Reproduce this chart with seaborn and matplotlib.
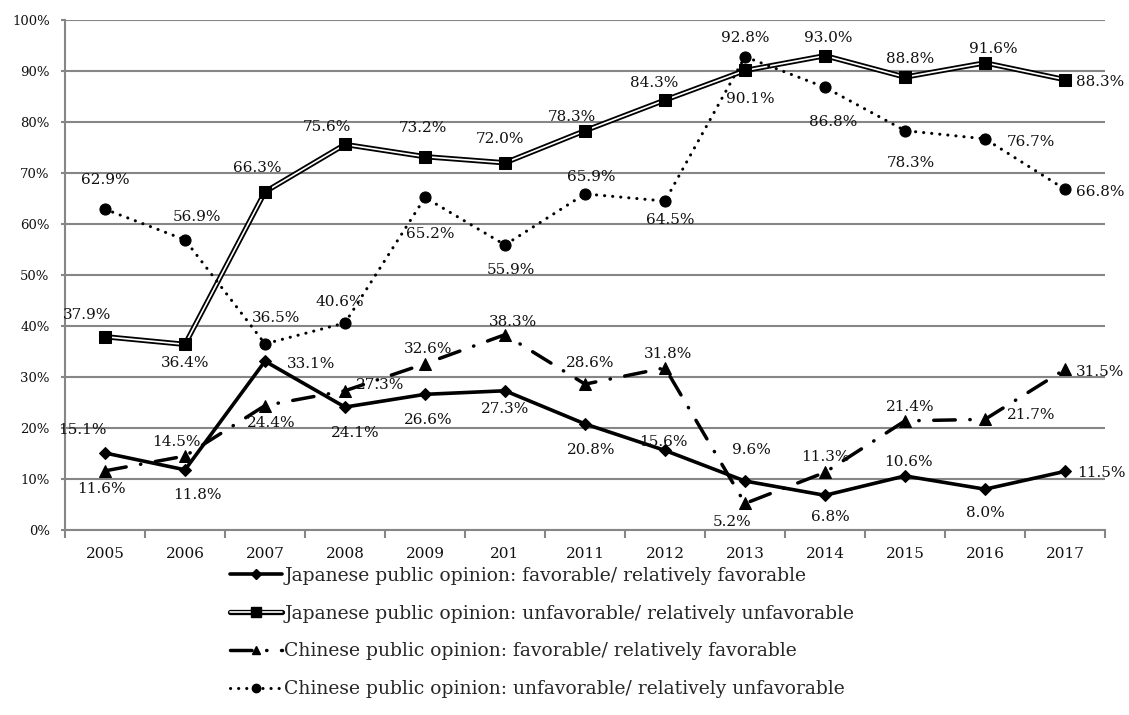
import numpy as np
import matplotlib
matplotlib.use("Agg")
import matplotlib.pyplot as plt
import seaborn as sns
from matplotlib.lines import Line2D
from matplotlib.legend_handler import HandlerTuple

# ---- data -------------------------------------------------------------
years = ["2005", "2006", "2007", "2008", "2009", "201", "2011",
         "2012", "2013", "2014", "2015", "2016", "2017"]
jp_favorable = [15.1, 11.8, 33.1, 24.1, 26.6, 27.3, 20.8, 15.6, 9.6, 6.8, 10.6, 8.0, 11.5]
jp_unfavorable = [37.9, 36.4, 66.3, 75.6, 73.2, 72.0, 78.3, 84.3, 90.1, 93.0, 88.8, 91.6, 88.3]
cn_favorable = [11.6, 14.5, 24.4, 27.3, 32.6, 38.3, 28.6, 31.8, 5.2, 11.3, 21.4, 21.7, 31.5]
cn_unfavorable = [62.9, 56.9, 36.5, 40.6, 65.2, 55.9, 65.9, 64.5, 92.8, 86.8, 78.3, 76.7, 66.8]
y_ticks = [0, 10, 20, 30, 40, 50, 60, 70, 80, 90, 100]
series_names = [
    "Japanese public opinion: favorable/ relatively favorable",
    "Japanese public opinion: unfavorable/ relatively unfavorable",
    "Chinese public opinion: favorable/ relatively favorable",
    "Chinese public opinion: unfavorable/ relatively unfavorable",
]

# value-label offsets (pixels, dx / dy) for each series
off_jp_fav = [(-23, 23), (12, -25), (46, -3), (10, -26), (3, -26), (0, -18), (6, -26),
              (-2, 8), (6, 31), (5, -22), (3, 14), (0, -24), (36, -2)]
off_jp_unfav = [(-18, 22), (0, -19), (-8, 24), (-18, 17), (-2, 29), (-5, 24), (-13, 14),
                (-11, 17), (5, -29), (3, 18), (5, 18), (8, 14), (35, -2)]
off_cn_fav = [(-4, -18), (-9, 14), (6, -17), (35, 6), (3, 15), (8, 13), (5, 21),
              (3, 14), (-13, -19), (0, 15), (5, 14), (46, 4), (35, -3)]
off_cn_unfav = [(0, 29), (12, 23), (11, 26), (-5, 21), (5, -37), (6, -25), (6, 17),
                (5, -19), (0, 19), (8, -35), (6, -32), (46, -3), (35, -3)]

# ---- style ------------------------------------------------------------
sns.set_theme(style="white")
plt.rcParams["font.family"] = ["DejaVu Serif"]
GRID = "#868686"
INK = "black"
TEXT = "#111111"

fig = plt.figure(figsize=(11.29, 7.15), dpi=100)
ax = fig.add_axes([65 / 1129, 1 - 530 / 715, 1040 / 1129, 510 / 715])
x = np.arange(len(years))

dashdot = (0, (6.2, 4.2, 0.1, 4.2))
dotted = (0, (0.05, 2.6))

# Japanese favorable: solid line with diamonds
sns.lineplot(x=x, y=jp_favorable, ax=ax, color=INK, lw=2.6, marker="D",
             markersize=6, markeredgecolor=INK, zorder=3)
# Japanese unfavorable: double line with squares
sns.lineplot(x=x, y=jp_unfavorable, ax=ax, color=INK, lw=3.8, zorder=3,
             solid_joinstyle="miter")
sns.lineplot(x=x, y=jp_unfavorable, ax=ax, color="white", lw=1.2, zorder=3.1,
             solid_joinstyle="miter")
sns.lineplot(x=x, y=jp_unfavorable, ax=ax, color=INK, linestyle="", marker="s",
             markersize=8, markeredgecolor=INK, zorder=3.2)
# Chinese favorable: long dash-dot with triangles
sns.lineplot(x=x, y=cn_favorable, ax=ax, color=INK, lw=2.5, linestyle=dashdot,
             dash_capstyle="round", marker="^", markersize=8,
             markeredgecolor=INK, zorder=3.3)
# Chinese unfavorable: round dots with circles
sns.lineplot(x=x, y=cn_unfavorable, ax=ax, color=INK, lw=2.2, linestyle=dotted,
             dash_capstyle="round", marker="o", markersize=8,
             markeredgecolor=INK, zorder=3.4)

# value labels
for vals, offs in [(jp_favorable, off_jp_fav), (jp_unfavorable, off_jp_unfav),
                   (cn_favorable, off_cn_fav), (cn_unfavorable, off_cn_unfav)]:
    for xi, v, (dx, dy) in zip(x, vals, offs):
        ax.annotate(f"{v:.1f}%", (xi, v), xytext=(dx, dy),
                    textcoords="offset pixels", ha="center", va="center",
                    fontsize=11, color=TEXT, zorder=5)

# axes
ax.set_xlim(-0.5, len(years) - 0.5)
ax.set_ylim(0, 100)
ax.set_yticks(y_ticks)
ax.set_yticklabels([f"{t}%" for t in y_ticks])
ax.set_xticks(x)
ax.set_xticklabels(years)
ax.set_xticks(np.arange(-0.5, len(years), 1), minor=True)
ax.set_xlabel("")
ax.set_ylabel("")
ax.yaxis.grid(True, color=GRID, lw=1.5)
ax.xaxis.grid(False)
ax.set_axisbelow(True)
for s in ["top", "right"]:
    ax.spines[s].set_visible(False)
for s in ["left", "bottom"]:
    ax.spines[s].set_color(GRID)
    ax.spines[s].set_linewidth(1.5)
ax.tick_params(axis="x", which="major", length=0, pad=12, labelsize=11,
               labelcolor=TEXT)
ax.tick_params(axis="x", which="minor", length=6, width=1.5, color=GRID,
               direction="out", bottom=True)
ax.tick_params(axis="y", which="major", length=3, width=1.5, color=GRID,
               direction="out", left=True, pad=8, labelsize=9.5,
               labelcolor=TEXT)

# legend
h1 = Line2D([], [], color=INK, lw=2.6, marker="D", markersize=5)
h2 = (Line2D([], [], color=INK, lw=3.8),
      Line2D([], [], color="white", lw=1.2),
      Line2D([], [], color=INK, linestyle="", marker="s", markersize=7))
h3 = Line2D([], [], color=INK, lw=2.5, linestyle=dashdot, dash_capstyle="round",
            marker="^", markersize=6)
h4 = Line2D([], [], color=INK, lw=2.2, linestyle=dotted, dash_capstyle="round",
            marker="o", markersize=6)
fig.legend([h1, h2, h3, h4], series_names, loc="upper left",
           bbox_to_anchor=(230 / 1129, 1 - 567 / 715), frameon=False,
           fontsize=13.5, handlelength=2.75, handletextpad=0.15,
           labelspacing=1.05, borderpad=0, borderaxespad=0,
           handler_map={tuple: HandlerTuple(ndivide=1)})

fig.savefig("out.png", dpi=100)
